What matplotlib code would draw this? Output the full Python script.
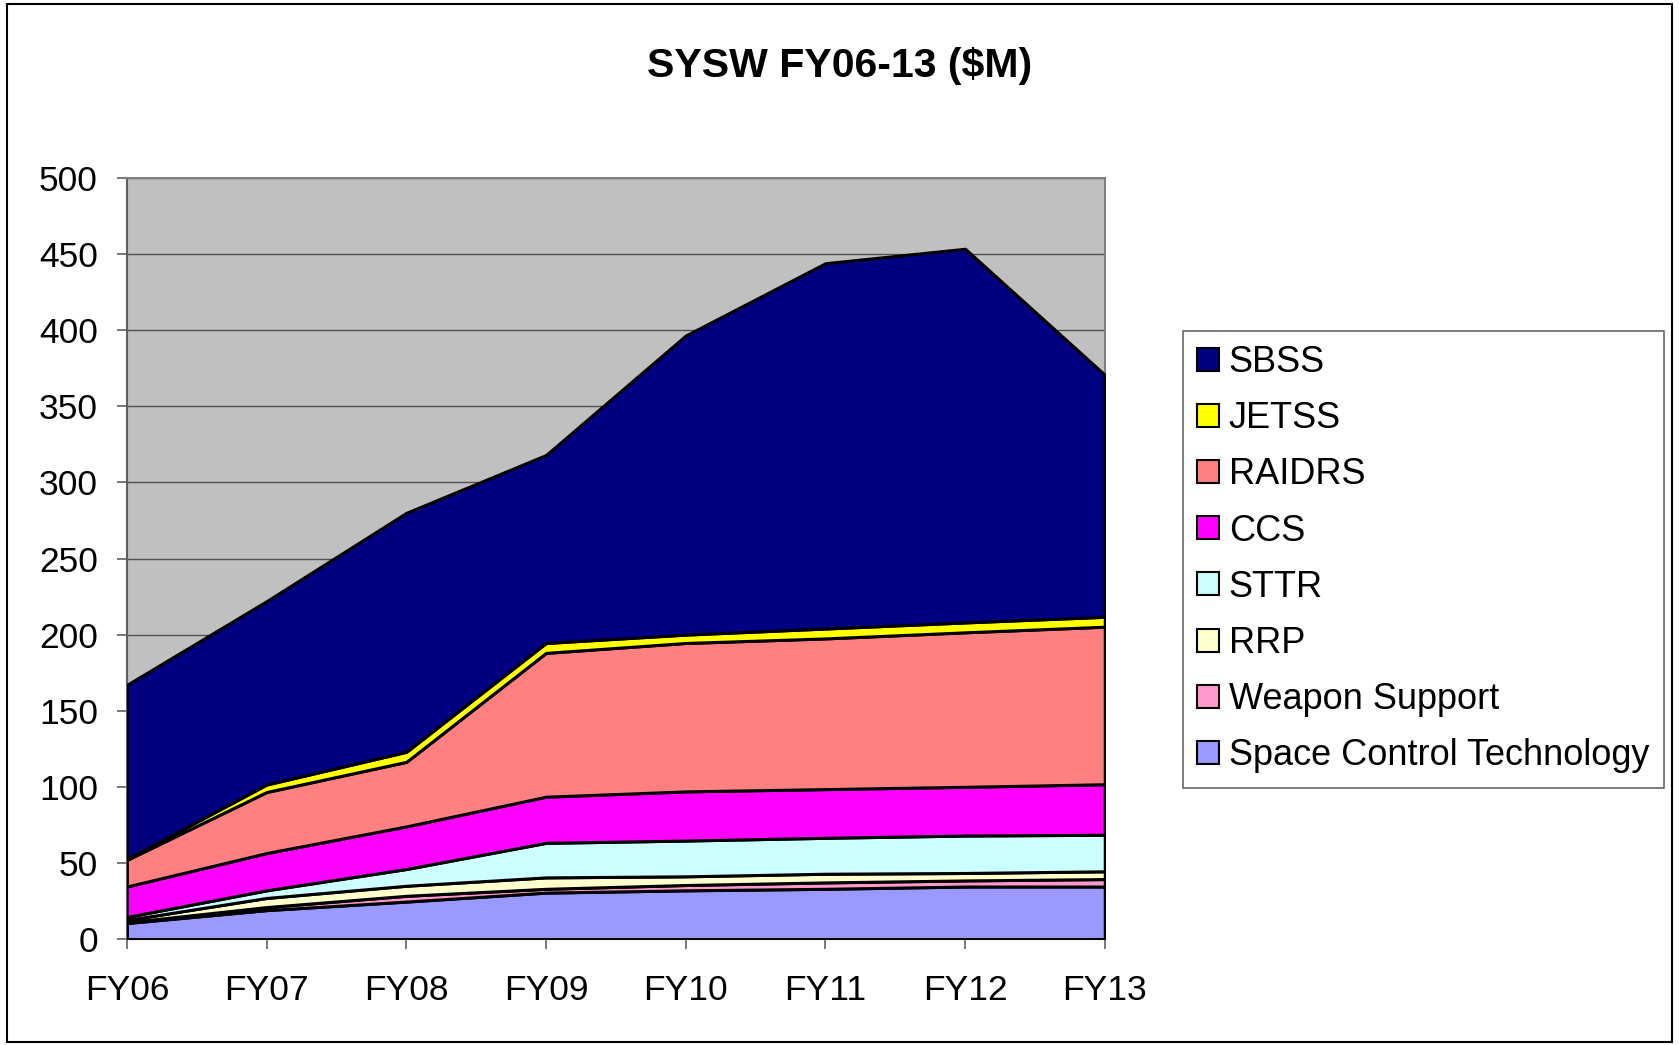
import numpy as np
import matplotlib.pyplot as plt
from matplotlib.patches import Rectangle, Patch

plt.rcParams['font.family'] = ['Liberation Sans', 'DejaVu Sans']

# %% Data ($M per fiscal year)
years = ['FY06', 'FY07', 'FY08', 'FY09', 'FY10', 'FY11', 'FY12', 'FY13']

space_control = [10.5, 19, 24.6, 30.5, 32, 33, 34.5, 34.5]
weapon_support = [0.5, 2, 3.8, 2.5, 3.5, 4.2, 4.0, 4.9]
rrp = [1.5, 6, 6.6, 7.5, 5.7, 5.7, 4.9, 5.1]
sttr = [2, 5, 11, 22.7, 23.5, 23.6, 24.6, 24]
ccs = [20, 24.5, 28, 30.3, 32.3, 32, 32, 33.2]
raidrs = [17.5, 40.1, 42.4, 94.5, 97.5, 99, 101.5, 103.5]
jetss = [0.5, 4.9, 6.6, 6.5, 5.5, 6.5, 6.5, 6.5]
sbss = [114.5, 120.5, 157, 123.5, 196.5, 240, 245.5, 159]

series_names = ['Space Control Technology', 'Weapon Support', 'RRP', 'STTR',
                'CCS', 'RAIDRS', 'JETSS', 'SBSS']
series_colors = ['#9999FF', '#FF99CC', '#FFFFCC', '#CCFFFF',
                 '#FF00FF', '#FF8080', '#FFFF00', '#000080']

# %% Plot
fig = plt.figure(figsize=(16.79, 10.45), dpi=100)
ax = fig.add_axes([0.0756, 0.1014, 0.5824, 0.7283])

x = np.arange(len(years))
ax.set_facecolor('#C0C0C0')
polys = ax.stackplot(x, space_control, weapon_support, rrp, sttr, ccs, raidrs, jetss, sbss,
                     colors=series_colors, edgecolor='black', linewidth=2.2, zorder=3)

# Axis limits and ticks
ax.set_xlim(0, len(years) - 1)
ax.set_ylim(0, 500)
ax.set_yticks(np.arange(0, 501, 50))
ax.set_xticks(x)
ax.set_xticklabels(years)
ax.tick_params(axis='both', labelsize=25.5, direction='out', length=7, width=1.2, color='#606060')
ax.tick_params(axis='x', pad=18)
ax.tick_params(axis='y', pad=14)
ax.grid(axis='y', color='#505050', linewidth=1.0, zorder=1)
ax.set_axisbelow(True)

for side in ['left', 'bottom']:
    ax.spines[side].set_color('#606060')
    ax.spines[side].set_linewidth(1.5)
for side in ['top', 'right']:
    ax.spines[side].set_color('#808080')
    ax.spines[side].set_linewidth(1.5)

# Title
fig.text(0.5, 0.937, 'SYSW FY06-13 ($M)', ha='center', va='center',
         fontsize=29.5, fontweight='bold')

# Legend (SBSS on top, like the original)
handles = [Patch(facecolor=c, edgecolor='black', linewidth=1.5)
           for c in series_colors][::-1]
labels = series_names[::-1]
leg = fig.legend(handles, labels, loc='upper left', bbox_to_anchor=(0.7046, 0.6835),
                 fontsize=26, frameon=True, fancybox=False, edgecolor='#404040',
                 handlelength=0.6, handleheight=0.6, handletextpad=0.27,
                 labelspacing=0.585, borderpad=0.4, borderaxespad=0)
leg.get_frame().set_linewidth(1.2)

# Outer chart border
fig.patches.append(Rectangle((0.0042, 0.003), 0.9914, 0.993, transform=fig.transFigure,
                             fill=False, edgecolor='black', linewidth=1.5))

plt.savefig('out.png', dpi=100)
